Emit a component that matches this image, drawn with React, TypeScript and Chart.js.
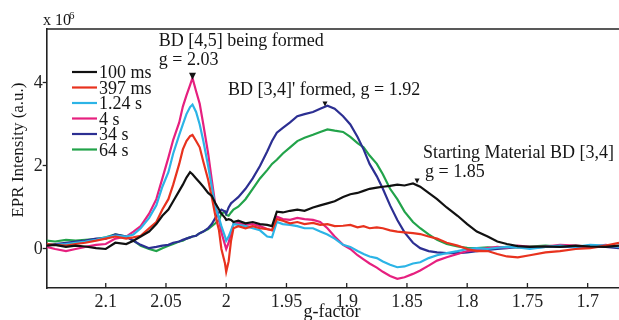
import React, { useEffect, useRef } from "react";
import { Chart, registerables } from "chart.js";

Chart.register(...registerables);

// g-factor sample positions (shared by all series)
const G = [
  2.149, 2.142, 2.133, 2.125, 2.117, 2.108, 2.1, 2.092, 2.083, 2.077,
  2.071, 2.064, 2.058, 2.053, 2.048, 2.044, 2.039, 2.036, 2.033, 2.03,
  2.028, 2.025, 2.022, 2.019, 2.015, 2.012, 2.009, 2.006, 2.004, 2.001,
  2.0, 1.998, 1.996, 1.994, 1.99, 1.984, 1.978, 1.972, 1.966, 1.962,
  1.958, 1.953, 1.947, 1.941, 1.935, 1.928, 1.922, 1.916, 1.91, 1.903,
  1.897, 1.891, 1.886, 1.881, 1.875, 1.87, 1.864, 1.858, 1.852, 1.845,
  1.839, 1.832, 1.825, 1.817, 1.808, 1.8, 1.792, 1.783, 1.775, 1.767,
  1.758, 1.748, 1.735, 1.723, 1.71, 1.698, 1.685, 1.674,
];

const S_100MS = [
  0.08, 0.1, 0.05, 0.08, 0.06, 0.02, 0.0, 0.15, 0.12, 0.2,
  0.3, 0.42, 0.6, 0.8, 0.95, 1.15, 1.4, 1.55, 1.72, 1.85,
  1.8, 1.7, 1.6, 1.5, 1.35, 1.28, 1.1, 0.95, 0.85, 0.75,
  0.7, 0.72, 0.7, 0.65, 0.68, 0.62, 0.65, 0.6, 0.58, 0.55,
  0.9, 0.88, 0.92, 0.95, 0.92, 1.0, 1.05, 1.1, 1.15, 1.25,
  1.32, 1.35, 1.4, 1.45, 1.48, 1.5, 1.52, 1.55, 1.53, 1.58,
  1.5, 1.35, 1.2, 1.0, 0.8, 0.6, 0.42, 0.3, 0.18, 0.12,
  0.07, 0.05, 0.06, 0.05, 0.08, 0.06, 0.05, 0.08,
];

const S_397MS = [
  0.12, 0.1, 0.08, 0.12, 0.15, 0.2, 0.25, 0.3, 0.25, 0.28,
  0.32, 0.5, 0.65, 0.95, 1.2, 1.55, 2.05, 2.4, 2.6, 2.72,
  2.75, 2.6, 2.45, 2.1, 1.67, 1.25, 0.8, 0.45, 0.0, -0.35,
  -0.55, -0.3, 0.2, 0.5, 0.55, 0.5, 0.55, 0.5, 0.48, 0.45,
  0.72, 0.68, 0.62, 0.65, 0.6, 0.63, 0.58, 0.6, 0.55, 0.56,
  0.58, 0.52, 0.55, 0.5, 0.52, 0.5, 0.45, 0.42, 0.4, 0.38,
  0.36, 0.3, 0.25, 0.15, 0.08, 0.0, -0.05, -0.05, -0.12, -0.18,
  -0.2, -0.15, -0.08, -0.05, 0.0, 0.02, 0.08, 0.15,
];

const S_124S = [
  0.12, 0.1, 0.12, 0.15, 0.18, 0.22, 0.28, 0.32, 0.3, 0.35,
  0.5, 0.75, 1.05, 1.5, 1.85, 2.3, 2.75, 3.0, 3.25, 3.42,
  3.48, 3.3, 3.0, 2.6, 2.0, 1.5, 1.0, 0.75, 0.55, 0.3,
  0.2, 0.3, 0.45, 0.6, 0.58, 0.55, 0.5, 0.45, 0.3, 0.28,
  0.65, 0.6, 0.58, 0.55, 0.5, 0.5, 0.42, 0.35, 0.25, 0.1,
  0.05, -0.05, -0.12, -0.18, -0.22, -0.3, -0.38, -0.44, -0.42, -0.35,
  -0.32, -0.22, -0.15, -0.1, -0.05, 0.0, 0.02, 0.0, 0.03, 0.05,
  0.04, 0.0, 0.05, 0.08, 0.05, 0.1, 0.08, 0.05,
];

const S_4S = [
  0.05, 0.0, -0.05, 0.0, 0.05, 0.1, 0.12, 0.25, 0.3, 0.42,
  0.55, 0.85, 1.2, 1.7, 2.2, 2.63, 3.05, 3.43, 3.7, 3.95,
  4.12, 3.8, 3.5, 3.0, 2.3, 1.67, 1.05, 0.7, 0.4, 0.1,
  0.0, 0.15, 0.4, 0.6, 0.63, 0.58, 0.6, 0.55, 0.48, 0.45,
  0.78, 0.72, 0.7, 0.75, 0.72, 0.7, 0.65, 0.5, 0.3, 0.1,
  0.0, -0.15, -0.25, -0.35, -0.45, -0.55, -0.65, -0.72, -0.68, -0.6,
  -0.52, -0.4, -0.28, -0.2, -0.12, -0.05, -0.02, 0.02, 0.05, 0.03,
  0.08, 0.05, 0.06, 0.1, 0.08, 0.05, 0.1, 0.05,
];

const S_34S = [
  0.1, 0.12, 0.15, 0.18, 0.2, 0.25, 0.25, 0.35, 0.3, 0.2,
  0.1, 0.02, 0.05, 0.08, 0.1, 0.15, 0.18, 0.22, 0.25, 0.28,
  0.3, 0.32, 0.38, 0.42, 0.5, 0.6, 0.75, 0.88, 0.95, 0.9,
  0.85, 1.0, 1.1, 1.15, 1.25, 1.45, 1.7, 2.0, 2.35, 2.6,
  2.8, 2.92, 3.05, 3.2, 3.25, 3.3, 3.38, 3.45, 3.38, 3.2,
  3.0, 2.7, 2.4, 2.05, 1.75, 1.45, 1.05, 0.7, 0.4, 0.15,
  0.02, -0.05, -0.08, -0.1, -0.1, -0.08, -0.05, -0.02, 0.0, 0.02,
  0.05, 0.03, 0.05, 0.06, 0.04, 0.08, 0.05, 0.02,
];

const S_64S = [
  0.2, 0.18, 0.22, 0.2, 0.22, 0.24, 0.28, 0.35, 0.3, 0.2,
  0.08, 0.0, -0.05, 0.02, 0.08, 0.12, 0.18, 0.2, 0.25, 0.28,
  0.3, 0.32, 0.38, 0.42, 0.48, 0.55, 0.62, 0.7, 0.85, 0.9,
  0.82, 0.8, 0.88, 0.95, 1.02, 1.2, 1.45, 1.7, 1.9, 2.05,
  2.15, 2.3, 2.45, 2.6, 2.68, 2.75, 2.82, 2.88, 2.85, 2.82,
  2.7, 2.55, 2.45, 2.25, 2.05, 1.8, 1.45, 1.2, 0.9, 0.65,
  0.5, 0.35, 0.22, 0.12, 0.06, 0.03, 0.02, 0.04, 0.03, 0.05,
  0.04, 0.06, 0.08, 0.06, 0.07, 0.05, 0.08, 0.06,
];

const SERIES_LABELS = ["100 ms", "397 ms", "1.24 s", "4 s", "34 s", "64 s"];
const SERIES_VALUES = [S_100MS, S_397MS, S_124S, S_4S, S_34S, S_64S];
const SERIES_COLORS = ["#111111", "#e8321e", "#2cb4e6", "#e6207f", "#2c2f92", "#22a34a"];

const X_TICKS = [2.1, 2.05, 2, 1.95, 1.9, 1.85, 1.8, 1.75, 1.7];
const Y_TICKS = [0, 2, 4];

const X_MIN = 1.674;
const X_MAX = 2.149;
const Y_MIN = -0.94;
const Y_MAX = 5.3;

// annotation texts anchored in data coordinates (g, intensity)
const NOTES = [
  { text: "BD [4,5] being formed", g: 2.056, v: 4.9 },
  { text: "g = 2.03", g: 2.056, v: 4.44 },
  { text: "BD [3,4]' formed, g = 1.92", g: 1.9986, v: 3.72 },
  { text: "Starting Material BD [3,4]", g: 1.8366, v: 2.2 },
  { text: "g = 1.85", g: 1.835, v: 1.74 },
];
// marker arrows (tip position in data coordinates)
const MARKS = [
  { g: 2.028, v: 4.08, size: 7 },
  { g: 1.918, v: 3.43, size: 5 },
  { g: 1.8416, v: 1.58, size: 5 },
];

const SERIF = '"Liberation Serif", "Times New Roman", serif';

const overlay = {
  id: "overlay",
  afterDraw(chart: any) {
    const { ctx, chartArea: a, scales } = chart;
    const x = scales.x;
    const y = scales.y;
    ctx.save();
    // top frame line
    ctx.strokeStyle = "#222";
    ctx.lineWidth = 1.6;
    ctx.beginPath();
    ctx.moveTo(a.left, a.top);
    ctx.lineTo(chart.width, a.top);
    ctx.stroke();
    // inward x ticks
    ctx.lineWidth = 1.3;
    X_TICKS.forEach((v) => {
      const px = x.getPixelForValue(v);
      ctx.beginPath();
      ctx.moveTo(px, a.bottom);
      ctx.lineTo(px, a.bottom - 5);
      ctx.stroke();
    });
    // annotations
    ctx.fillStyle = "#151515";
    ctx.font = `18px ${SERIF}`;
    ctx.textAlign = "left";
    ctx.textBaseline = "alphabetic";
    NOTES.forEach((n) => {
      ctx.fillText(n.text, x.getPixelForValue(n.g), y.getPixelForValue(n.v));
    });
    MARKS.forEach((m) => {
      const px = x.getPixelForValue(m.g);
      const py = y.getPixelForValue(m.v);
      ctx.beginPath();
      ctx.moveTo(px, py);
      ctx.lineTo(px - m.size / 2, py - m.size);
      ctx.lineTo(px + m.size / 2, py - m.size);
      ctx.closePath();
      ctx.fill();
    });
    // legend
    chart.data.datasets.forEach((ds: any, i: number) => {
      const ly = 72 + i * 15.5;
      ctx.strokeStyle = ds.borderColor;
      ctx.lineWidth = 2.2;
      ctx.beginPath();
      ctx.moveTo(72, ly);
      ctx.lineTo(97, ly);
      ctx.stroke();
      ctx.fillStyle = "#151515";
      ctx.font = `18px ${SERIF}`;
      ctx.fillText(ds.label, 99, ly + 6);
    });
    // multiplier
    ctx.font = `16px ${SERIF}`;
    ctx.fillText("x 10", 43, 25);
    ctx.font = `11px ${SERIF}`;
    ctx.fillText("6", 69, 19);
    // axis titles
    ctx.font = `17px ${SERIF}`;
    ctx.textAlign = "center";
    ctx.textBaseline = "middle";
    ctx.save();
    ctx.translate(19, 150);
    ctx.rotate(-Math.PI / 2);
    ctx.fillText("EPR Intensity (a.u.)", 0, 0);
    ctx.restore();
    ctx.font = `18px ${SERIF}`;
    ctx.fillText("g-factor", 332, 312);
    ctx.restore();
  },
};

export default function App() {
  const ref = useRef<HTMLCanvasElement | null>(null);
  useEffect(() => {
    if (!ref.current) return;
    const datasets = SERIES_LABELS.map((label, i) => ({
      label,
      data: G.map((g, k) => ({ x: g, y: SERIES_VALUES[i][k] })),
      borderColor: SERIES_COLORS[i],
      backgroundColor: SERIES_COLORS[i],
      borderWidth: 2.2,
      pointRadius: 0,
      tension: 0,
      fill: false,
    }));
    const chart = new Chart(ref.current, {
      type: "line",
      data: { datasets },
      options: {
        responsive: false,
        animation: false,
        layout: { padding: { top: 29, right: 0, left: 0, bottom: 0 } },
        plugins: { legend: { display: false }, tooltip: { enabled: false } },
        scales: {
          x: {
            type: "linear",
            reverse: true,
            min: X_MIN,
            max: X_MAX,
            afterBuildTicks: (s: any) => {
              s.ticks = X_TICKS.map((v) => ({ value: v }));
            },
            afterFit: (s: any) => {
              s.height = 32;
            },
            grid: { display: true, drawOnChartArea: false, drawTicks: false },
            border: { display: true, color: "#222", width: 1.6 },
            ticks: {
              padding: 3,
              color: "#222",
              font: { family: SERIF, size: 18 },
              maxRotation: 0,
              autoSkip: false,
              callback: (v: any) => String(+Number(v).toFixed(2)),
            },
          },
          y: {
            type: "linear",
            min: Y_MIN,
            max: Y_MAX,
            afterBuildTicks: (s: any) => {
              s.ticks = Y_TICKS.map((v) => ({ value: v }));
            },
            afterFit: (s: any) => {
              s.width = 46.7;
            },
            grid: {
              display: true,
              drawOnChartArea: false,
              drawTicks: true,
              tickLength: 4,
              tickColor: "#222",
              tickWidth: 1.3,
            },
            border: { display: true, color: "#222", width: 1.6 },
            ticks: {
              padding: 0,
              color: "#222",
              font: { family: SERIF, size: 18 },
              callback: (v: any) => String(v),
            },
          },
        },
      },
      plugins: [overlay],
    });
    return () => chart.destroy();
  }, []);
  return (
    <div style={{ position: "absolute", left: 0, top: 0, width: 619, height: 320, background: "#fff" }}>
      <canvas ref={ref} width={619} height={320} style={{ display: "block" }} />
    </div>
  );
}
